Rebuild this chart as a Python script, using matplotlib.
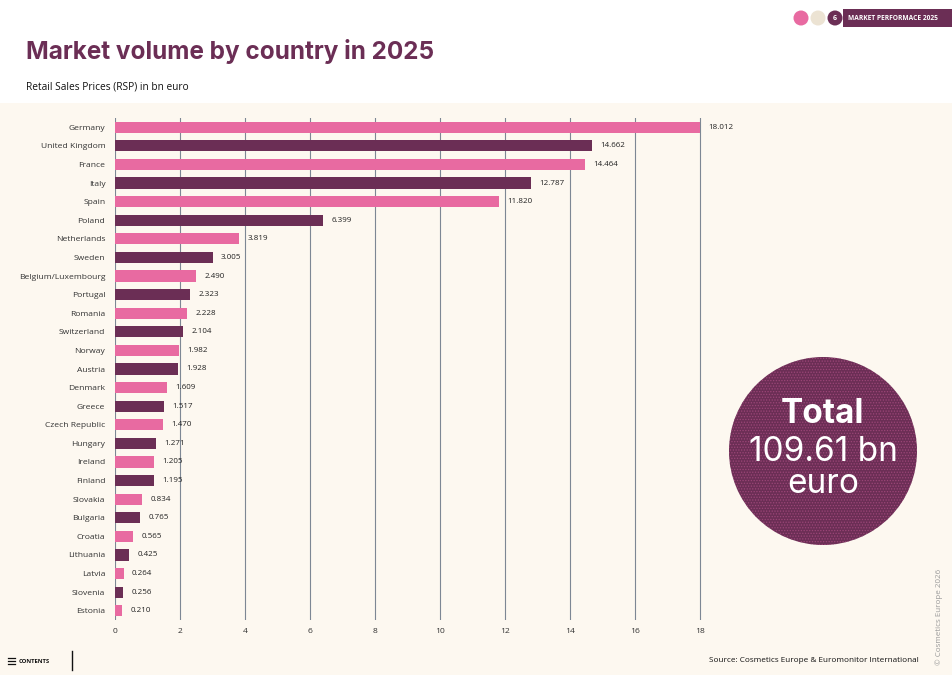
import matplotlib
matplotlib.use("Agg")
import matplotlib.pyplot as plt
from matplotlib.patches import Circle, Rectangle
from matplotlib.lines import Line2D

countries = ["Germany", "United Kingdom", "France", "Italy", "Spain", "Poland",
             "Netherlands", "Sweden", "Belgium/Luxembourg", "Portugal", "Romania",
             "Switzerland", "Norway", "Austria", "Denmark", "Greece", "Czech Republic",
             "Hungary", "Ireland", "Finland", "Slovakia", "Bulgaria", "Croatia",
             "Lithuania", "Latvia", "Slovenia", "Estonia"]
values = [18.012, 14.662, 14.464, 12.787, 11.820, 6.399, 3.819, 3.005, 2.490,
          2.323, 2.228, 2.104, 1.982, 1.928, 1.609, 1.517, 1.470, 1.271, 1.205,
          1.195, 0.834, 0.765, 0.565, 0.425, 0.264, 0.256, 0.210]
xticks = [0, 2, 4, 6, 8, 10, 12, 14, 16, 18]
total_label = "109.61 bn"

PINK = "#E86AA1"
DARK = "#6B2E55"
CREAM = "#FDF8F0"
BEIGE = "#ECE3D3"

plt.rcParams["font.family"] = ["Open Sans", "DejaVu Sans"]
plt.rcParams["hatch.linewidth"] = 0.6

W, H = 952, 675
fig = plt.figure(figsize=(W / 100, H / 100), dpi=100)
fig.patch.set_facecolor("white")

fig.add_artist(Rectangle((0, 0), 1, 1 - 103 / H, transform=fig.transFigure,
                         facecolor=CREAM, edgecolor="none", zorder=0))

def fx(px):
    return px / W

def fy(py):
    return 1 - py / H

XMAX = 18.06
ax = fig.add_axes([fx(115), fy(620), fx(115 + XMAX * 32.5) - fx(115), fy(118) - fy(620)])
ax.set_facecolor("none")
ypos = list(range(len(countries)))
colors = [PINK if i % 2 == 0 else DARK for i in ypos]
ax.barh(ypos, values, height=0.6, color=colors, zorder=3, clip_on=False)
for i, v in enumerate(values):
    ax.annotate(f"{v:.3f}", xy=(v, i), xytext=(6, 0), textcoords="offset points",
                va="center", ha="left", fontsize=5.8, color="#222222", clip_on=False)
ax.set_ylim(len(countries) - 0.5, -0.5)
ax.set_xlim(0, XMAX)
ax.set_yticks(ypos)
ax.set_yticklabels(countries, fontsize=6.1, color="#333333")
ax.set_xticks(xticks)
ax.set_xticklabels([str(t) for t in xticks], fontsize=6.1, color="#333333")
ax.tick_params(axis="both", length=0)
ax.tick_params(axis="y", pad=7)
ax.tick_params(axis="x", pad=6)
for s in ax.spines.values():
    s.set_visible(False)
ax.xaxis.grid(True, color="#7D8794", linewidth=0.8, zorder=0)
ax.set_axisbelow(True)

fig.text(fx(26), fy(52), "Market volume by country in 2025", fontsize=17.5,
         fontweight="bold", color=DARK, va="center", ha="left",
         family=["Inter", "DejaVu Sans"])
fig.text(fx(26), fy(87), "Retail Sales Prices (RSP) in bn euro", fontsize=7.3,
         color="#111111", va="center", ha="left")

ov = fig.add_axes([0, 0, 1, 1], zorder=5)
ov.set_xlim(0, W)
ov.set_ylim(H, 0)
ov.axis("off")
ov.add_patch(Circle((801, 18), 7.5, facecolor=PINK, edgecolor="none"))
ov.add_patch(Circle((818, 18), 7.5, facecolor=BEIGE, edgecolor="none"))
ov.add_patch(Circle((835, 18), 7.5, facecolor=DARK, edgecolor="none"))
ov.text(835, 18.5, "6", color="white", fontsize=5, fontweight="bold",
        ha="center", va="center")
ov.add_patch(Rectangle((843, 9), 109, 18, facecolor=DARK, edgecolor="none"))
ov.text(848, 18.5, "MARKET PERFORMACE 2025", color="white", fontsize=4.8,
        fontweight="bold", ha="left", va="center")

ov.add_patch(Circle((823, 451), 94, facecolor=DARK, edgecolor="none"))
ov.add_patch(Circle((823, 451), 94, facecolor="none", edgecolor="#9C4678",
                    hatch="......", linewidth=0))
ov.text(823, 414, "Total", color="white", fontsize=24, fontweight="bold",
        ha="center", va="center", family=["Inter", "DejaVu Sans"])
ov.text(823, 452, total_label, color="white", fontsize=24, fontweight="normal",
        ha="center", va="center", family=["Inter", "DejaVu Sans"])
ov.text(823, 484, "euro", color="white", fontsize=24, fontweight="normal",
        ha="center", va="center", family=["Inter", "DejaVu Sans"])

for dy in (-3, 0, 3):
    ov.add_line(Line2D([8, 15], [661 + dy, 661 + dy], color="#111111", linewidth=0.9))
ov.text(19, 661.5, "CONTENTS", fontsize=4.2, fontweight="bold", color="#111111",
        ha="left", va="center")
ov.add_line(Line2D([72, 72], [651, 670], color="#111111", linewidth=1))
ov.text(919, 661, "Source: Cosmetics Europe & Euromonitor International",
        fontsize=5.9, color="#111111", ha="right", va="center")
ov.text(939, 617, "© Cosmetics Europe 2026", fontsize=5.8, color="#9A9A9A",
        rotation=90, ha="center", va="center")

fig.savefig("out.png", dpi=100, facecolor=fig.get_facecolor())
